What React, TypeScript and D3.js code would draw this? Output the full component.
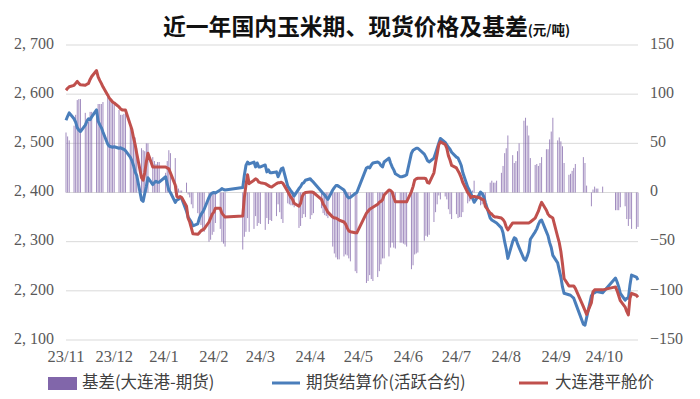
import React, { useRef, useEffect } from 'react';
import * as d3 from 'd3';

// month keys, axis labels and the trading days inside each month
const months = ['2023-11', '2023-12', '2024-01', '2024-02', '2024-03', '2024-04', '2024-05', '2024-06', '2024-07', '2024-08', '2024-09', '2024-10'];
const monthLabels = ['23/11', '23/12', '24/1', '24/2', '24/3', '24/4', '24/5', '24/6', '24/7', '24/8', '24/9', '24/10'];

const tradingDays = [
  [1, 2, 3, 6, 7, 8, 9, 10, 13, 14, 15, 16, 17, 20, 21, 22, 23, 24, 27, 28, 29, 30],
  [1, 4, 5, 6, 7, 8, 11, 12, 13, 14, 15, 18, 19, 20, 21, 22, 25, 26, 27, 28, 29],
  [2, 3, 4, 5, 8, 9, 10, 11, 12, 15, 16, 17, 18, 19, 22, 23, 24, 25, 26, 29, 30, 31],
  [1, 2, 5, 6, 7, 8, 19, 20, 21, 22, 23, 26, 27, 28, 29],
  [1, 4, 5, 6, 7, 8, 11, 12, 13, 14, 15, 18, 19, 20, 21, 22, 25, 26, 27, 28, 29],
  [1, 2, 3, 8, 9, 10, 11, 12, 15, 16, 17, 18, 19, 22, 23, 24, 25, 26, 29, 30],
  [6, 7, 8, 9, 10, 13, 14, 15, 16, 17, 20, 21, 22, 23, 24, 27, 28, 29, 30, 31],
  [3, 4, 5, 6, 7, 11, 12, 13, 14, 17, 18, 19, 20, 21, 24, 25, 26, 27, 28],
  [1, 2, 3, 4, 5, 8, 9, 10, 11, 12, 15, 16, 17, 18, 19, 22, 23, 24, 25, 26, 29, 30, 31],
  [1, 2, 5, 6, 7, 8, 9, 12, 13, 14, 15, 16, 19, 20, 21, 22, 23, 26, 27, 28, 29, 30],
  [2, 3, 4, 5, 6, 9, 10, 11, 12, 13, 18, 19, 20, 23, 24, 25, 26, 27, 30],
  [8, 9, 10, 11, 14, 15, 16, 17, 18, 21, 22],
];

// 期货结算价(活跃合约), per month
const futures = [
  [2547, 2555, 2562, 2550, 2543, 2532, 2527, 2524, 2537, 2545, 2550, 2548, 2554, 2568, 2545, 2538, 2532, 2523, 2498, 2494, 2493, 2492],
  [2493, 2490, 2491, 2489, 2488, 2485, 2472, 2465, 2455, 2442, 2435, 2385, 2382, 2398, 2412, 2430, 2416, 2420, 2423, 2421, 2421],
  [2432, 2418, 2405, 2400, 2380, 2385, 2386, 2390, 2388, 2362, 2350, 2345, 2340, 2332, 2336, 2348, 2355, 2360, 2366, 2390, 2396, 2399],
  [2400, 2399, 2405, 2408, 2406, 2405, 2410, 2435, 2455, 2462, 2458, 2462, 2452, 2460, 2452],
  [2452, 2456, 2442, 2446, 2440, 2440, 2442, 2432, 2440, 2448, 2450, 2413, 2408, 2403, 2399, 2393, 2408, 2412, 2418, 2420, 2425],
  [2428, 2424, 2421, 2402, 2398, 2395, 2390, 2386, 2405, 2410, 2414, 2414, 2412, 2405, 2399, 2392, 2389, 2390, 2398, 2400],
  [2450, 2452, 2450, 2456, 2460, 2462, 2460, 2455, 2452, 2462, 2470, 2460, 2452, 2446, 2438, 2432, 2432, 2433, 2434, 2436],
  [2480, 2486, 2488, 2490, 2490, 2478, 2472, 2465, 2462, 2470, 2480, 2490, 2500, 2510, 2502, 2497, 2492, 2488, 2482],
  [2472, 2470, 2463, 2455, 2440, 2411, 2405, 2398, 2390, 2380, 2395, 2401, 2398, 2392, 2380, 2348, 2344, 2342, 2340, 2338, 2328, 2318, 2300],
  [2285, 2266, 2300, 2308, 2306, 2296, 2288, 2265, 2262, 2270, 2280, 2305, 2320, 2326, 2335, 2342, 2344, 2320, 2312, 2298, 2288, 2272],
  [2257, 2242, 2228, 2208, 2195, 2192, 2191, 2188, 2185, 2176, 2132, 2130, 2145, 2190, 2195, 2196, 2198, 2198, 2196],
  [2226, 2218, 2208, 2195, 2181, 2185, 2185, 2212, 2232, 2228, 2222],
];

// 大连港平舱价, per month
const spot = [
  [2608, 2612, 2615, 2618, 2622, 2626, 2622, 2619, 2618, 2620, 2622, 2630, 2636, 2648, 2635, 2628, 2622, 2615, 2598, 2592, 2588, 2584],
  [2582, 2574, 2570, 2568, 2568, 2568, 2538, 2528, 2512, 2498, 2480, 2430, 2425, 2440, 2462, 2480, 2452, 2452, 2452, 2452, 2452],
  [2452, 2450, 2448, 2440, 2415, 2392, 2390, 2392, 2390, 2372, 2348, 2340, 2328, 2316, 2315, 2318, 2322, 2324, 2326, 2340, 2348, 2356],
  [2360, 2368, 2368, 2358, 2354, 2350, 2352, 2390, 2415, 2436, 2418, 2425, 2428, 2426, 2421],
  [2420, 2418, 2416, 2414, 2412, 2411, 2418, 2420, 2420, 2421, 2419, 2402, 2396, 2390, 2386, 2378, 2372, 2378, 2392, 2398, 2400],
  [2401, 2401, 2400, 2386, 2377, 2372, 2366, 2360, 2350, 2348, 2348, 2346, 2344, 2340, 2336, 2328, 2322, 2320, 2318, 2318],
  [2358, 2362, 2366, 2368, 2370, 2376, 2380, 2382, 2385, 2395, 2405, 2404, 2401, 2390, 2381, 2381, 2381, 2381, 2381, 2381],
  [2402, 2412, 2425, 2428, 2429, 2429, 2428, 2420, 2419, 2440, 2460, 2478, 2497, 2503, 2498, 2490, 2475, 2466, 2455],
  [2450, 2444, 2438, 2430, 2420, 2400, 2396, 2390, 2392, 2392, 2390, 2388, 2386, 2385, 2372, 2358, 2356, 2352, 2350, 2350, 2348, 2345, 2340],
  [2330, 2324, 2338, 2338, 2338, 2338, 2338, 2338, 2338, 2338, 2338, 2340, 2348, 2355, 2362, 2372, 2380, 2364, 2356, 2352, 2350, 2348],
  [2310, 2298, 2280, 2255, 2225, 2210, 2210, 2210, 2210, 2205, 2168, 2160, 2152, 2176, 2198, 2202, 2202, 2202, 2202],
  [2208, 2200, 2190, 2180, 2167, 2158, 2151, 2185, 2195, 2191, 2187],
];

const leftTicks = [2100, 2200, 2300, 2400, 2500, 2600, 2700];
const rightTicks = [-150, -100, -50, 0, 50, 100, 150];
const seriesNames = ['基差(大连港-期货)', '期货结算价(活跃合约)', '大连港平舱价'];

interface Row {
  date: Date;
  fut: number;
  spot: number;
  basis: number;
}

const COLORS = { basis: '#8166AA', fut: '#4A7EBB', spot: '#C0504D' };

const App: React.FC = () => {
  const svgRef = useRef<SVGSVGElement>(null);

  useEffect(() => {
    if (!svgRef.current) return;
    const svg = d3.select(svgRef.current);
    svg.selectAll('*').remove();

    // basis = 大连港 - 期货
    const rows: Row[] = [];
    months.forEach((m, mi) => {
      const [yy, mm] = m.split('-').map(Number);
      tradingDays[mi].forEach((d, di) => {
        const f = futures[mi][di];
        const s = spot[mi][di];
        rows.push({ date: new Date(yy, mm - 1, d), fut: f, spot: s, basis: s - f });
      });
    });

    const left = 66, right = 638, top = 45, bottom = 340;

    const x = d3.scaleTime()
      .domain([new Date(2023, 10, 1), new Date(2024, 9, 22)])
      .range([left, right]);
    const yL = d3.scaleLinear().domain([2100, 2700]).range([bottom, top]);
    const yR = d3.scaleLinear().domain([-150, 150]).range([bottom, top]);

    const tickFont = '"Liberation Serif", "DejaVu Serif", serif';
    const cjkFont = '"Noto Sans CJK SC", "Noto Sans", sans-serif';

    // title
    const title = svg.append('text')
      .attr('x', 163)
      .attr('y', 35)
      .attr('font-family', cjkFont)
      .attr('fill', '#111');
    title.append('tspan')
      .attr('font-size', '22.8px')
      .attr('font-weight', 'bold')
      .text('近一年国内玉米期、现货价格及基差');
    title.append('tspan')
      .attr('font-size', '13.5px')
      .attr('font-weight', 'bold')
      .text('(元/吨)');

    // gridlines
    svg.append('g')
      .selectAll('line')
      .data(leftTicks)
      .enter()
      .append('line')
      .attr('x1', left)
      .attr('x2', right)
      .attr('y1', d => yL(d))
      .attr('y2', d => yL(d))
      .attr('stroke', '#D9D9D9')
      .attr('stroke-width', 1);

    // left axis labels
    svg.append('g')
      .selectAll('text')
      .data(leftTicks)
      .enter()
      .append('text')
      .attr('x', 54)
      .attr('y', d => yL(d))
      .attr('text-anchor', 'end')
      .attr('dominant-baseline', 'middle')
      .attr('font-family', tickFont)
      .attr('font-size', '16px')
      .attr('fill', '#595959')
      .text(d => d3.format(',')(d).replace(',', ', '));

    // right axis labels
    svg.append('g')
      .selectAll('text')
      .data(rightTicks)
      .enter()
      .append('text')
      .attr('x', 650)
      .attr('y', d => yR(d))
      .attr('text-anchor', 'start')
      .attr('dominant-baseline', 'middle')
      .attr('font-family', tickFont)
      .attr('font-size', '16px')
      .attr('fill', '#595959')
      .text(d => d3.format('d')(d));

    // x labels at month starts
    svg.append('g')
      .selectAll('text')
      .data(months)
      .enter()
      .append('text')
      .attr('x', d => {
        const [yy, mm] = d.split('-').map(Number);
        return x(new Date(yy, mm - 1, 1));
      })
      .attr('y', 358)
      .attr('text-anchor', 'middle')
      .attr('dominant-baseline', 'middle')
      .attr('font-family', tickFont)
      .attr('font-size', '16.5px')
      .attr('fill', '#595959')
      .text((d, i) => monthLabels[i]);

    // basis bars (right axis)
    const bw = 1;
    svg.append('g')
      .selectAll('rect')
      .data(rows)
      .enter()
      .append('rect')
      .attr('x', d => x(d.date) - bw / 2)
      .attr('width', bw)
      .attr('y', d => Math.min(yR(d.basis), yR(0)))
      .attr('height', d => Math.abs(yR(d.basis) - yR(0)))
      .attr('fill', COLORS.basis)
      .attr('fill-opacity', 0.75);

    // price lines (left axis)
    const lineFut = d3.line<Row>().x(d => x(d.date)).y(d => yL(d.fut));
    const lineSpot = d3.line<Row>().x(d => x(d.date)).y(d => yL(d.spot));

    svg.append('path')
      .datum(rows)
      .attr('d', lineFut)
      .attr('fill', 'none')
      .attr('stroke', COLORS.fut)
      .attr('stroke-width', 3)
      .attr('stroke-linejoin', 'round');

    svg.append('path')
      .datum(rows)
      .attr('d', lineSpot)
      .attr('fill', 'none')
      .attr('stroke', COLORS.spot)
      .attr('stroke-width', 3)
      .attr('stroke-linejoin', 'round');

    // legend
    const legend = svg.append('g').attr('font-family', cjkFont).attr('font-size', '16.5px').attr('fill', '#404040');
    legend.append('rect')
      .attr('x', 48).attr('y', 377).attr('width', 29).attr('height', 13)
      .attr('fill', COLORS.basis);
    legend.append('text')
      .attr('x', 82).attr('y', 384).attr('dominant-baseline', 'middle')
      .text(seriesNames[0]);
    legend.append('line')
      .attr('x1', 272).attr('x2', 300).attr('y1', 383).attr('y2', 383)
      .attr('stroke', COLORS.fut).attr('stroke-width', 3);
    legend.append('text')
      .attr('x', 306).attr('y', 384).attr('dominant-baseline', 'middle')
      .text(seriesNames[1]);
    legend.append('line')
      .attr('x1', 519).attr('x2', 548).attr('y1', 383).attr('y2', 383)
      .attr('stroke', COLORS.spot).attr('stroke-width', 3);
    legend.append('text')
      .attr('x', 555).attr('y', 384).attr('dominant-baseline', 'middle')
      .text(seriesNames[2]);
  }, []);

  return (
    <svg
      ref={svgRef}
      width={700}
      height={399}
      style={{ position: 'absolute', left: 0, top: 0, background: '#fff' }}
    ></svg>
  );
};

export default App;
